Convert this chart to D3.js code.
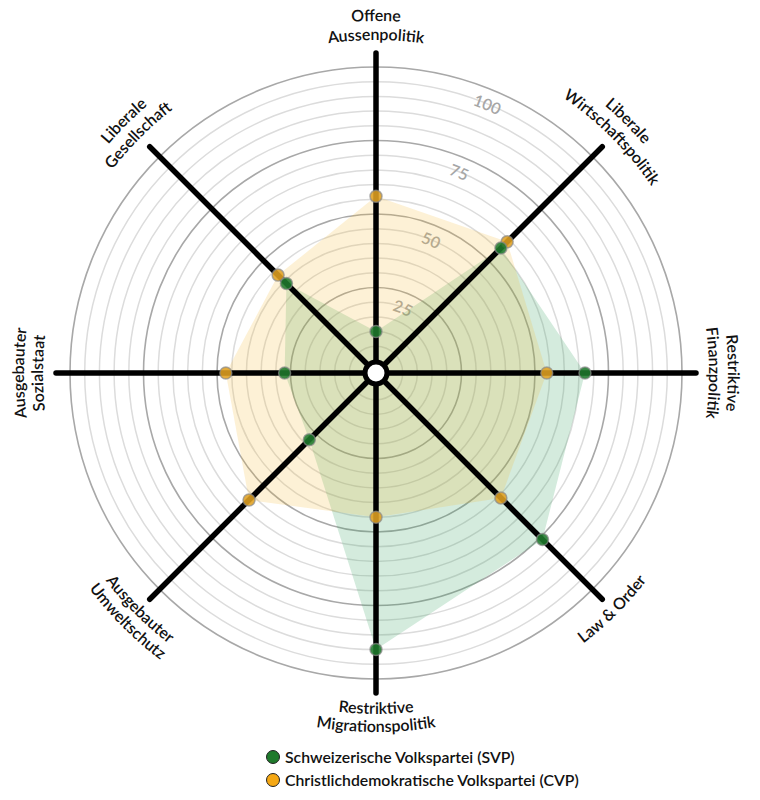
<!DOCTYPE html>
<html>
<head>
<meta charset="utf-8">
<script src="https://cdn.jsdelivr.net/npm/d3@7"></script>
<style>
html,body{margin:0;padding:0;background:#fff;}
svg{display:block;}
text{font-family:Lato,"Open Sans",sans-serif;}
</style>
</head>
<body>
<svg id="chart" width="760" height="800"></svg>
<script>
const axisLabels = [
  ["Offene","Aussenpolitik"],
  ["Liberale","Wirtschaftspolitik"],
  ["Restriktive","Finanzpolitik"],
  ["Law & Order"],
  ["Restriktive","Migrationspolitik"],
  ["Ausgebauter","Umweltschutz"],
  ["Ausgebauter","Sozialstaat"],
  ["Liberale","Gesellschaft"]
];
const seriesNames = ["Schweizerische Volkspartei (SVP)","Christlichdemokratische Volkspartei (CVP)"];
const svpValues = [10, 56, 67, 76, 90, 28, 27, 39];
const cvpValues = [56, 59, 54, 56, 45, 57, 47, 43];
const tickValues = [25, 50, 75, 100];
const minorTicks = d3.range(5, 100, 5).filter(v => v % 25 !== 0);

const cx = 376, cy = 373;
const svg = d3.select("#chart");
const r = d3.scaleLinear().domain([0,100]).range([12, 306]);
const n = axisLabels.length;
const ang = d3.scaleLinear().domain([0, n]).range([0, 2*Math.PI]);
const pt = (a, rad) => [cx + rad*Math.sin(a), cy - rad*Math.cos(a)];

const g = svg.append("g");

// rings
g.selectAll("circle.minor").data(minorTicks).enter().append("circle")
  .attr("cx", cx).attr("cy", cy).attr("r", d => r(d))
  .attr("fill","none").attr("stroke","#dcdcdc").attr("stroke-width",1.5);
g.selectAll("circle.major").data(tickValues).enter().append("circle")
  .attr("cx", cx).attr("cy", cy).attr("r", d => r(d))
  .attr("fill","none").attr("stroke","#a8a8a8").attr("stroke-width",1.6);

// helper arcs
const defs = svg.append("defs");
function arcPath(id, a, rad, cw) {
  const half = Math.PI/2;
  let p0, p1, sweep;
  if (cw) { p0 = pt(a-half, rad); p1 = pt(a+half, rad); sweep = 1; }
  else { p0 = pt(a+half, rad); p1 = pt(a-half, rad); sweep = 0; }
  defs.append("path").attr("id", id)
    .attr("d", `M${p0[0]},${p0[1]} A${rad},${rad} 0 0 ${sweep} ${p1[0]},${p1[1]}`);
}

// tick labels
const tickAngle = Math.PI/8;
tickValues.forEach((v,i) => {
  arcPath("tick"+i, tickAngle, r(v)-21, true);
  g.append("text").attr("font-size",16).attr("fill","#a6a6a6").attr("font-weight",600)
    .append("textPath").attr("href","#tick"+i).attr("startOffset","50%")
    .attr("text-anchor","middle").text(v);
});

// polygons
const line = d3.lineRadial().angle((d,i)=>ang(i)).radius(d=>r(d)).curve(d3.curveLinearClosed);
const pg = g.append("g").attr("transform",`translate(${cx},${cy})`);
pg.append("path").attr("d", line(svpValues)).attr("fill","#36a060").attr("fill-opacity",0.21);
pg.append("path").attr("d", line(cvpValues)).attr("fill","#f7b733").attr("fill-opacity",0.2);

// axes
axisLabels.forEach((lab,i) => {
  const e = pt(ang(i), 320);
  g.append("line").attr("x1",cx).attr("y1",cy).attr("x2",e[0]).attr("y2",e[1])
    .attr("stroke","#000").attr("stroke-width",5.5).attr("stroke-linecap","round");
});

// points
const series = [
  {vals: svpValues, color:"#1f7a2c"},
  {vals: cvpValues, color:"#e0a021"}
];
[series[1], series[0]].forEach(s => {
  g.selectAll(null).data(s.vals).enter().append("circle")
    .attr("cx",(d,i)=>pt(ang(i), r(d))[0]).attr("cy",(d,i)=>pt(ang(i), r(d))[1])
    .attr("r",6).attr("fill",s.color).attr("fill-opacity",0.88)
    .attr("stroke","#8a8a8a").attr("stroke-opacity",0.7).attr("stroke-width",1.5);
});

// center
g.append("circle").attr("cx",cx).attr("cy",cy).attr("r",11)
  .attr("fill","#fff").attr("stroke","#000").attr("stroke-width",5);

// axis labels
axisLabels.forEach((lab,i) => {
  const a = ang(i);
  const deg = i*360/n;
  const cw = !(deg > 90 && deg < 270);
  const radii = cw ? [352, 333] : [341, 359];
  lab.forEach((t,j) => {
    const id = `lab${i}_${j}`;
    arcPath(id, a, radii[j], cw);
    g.append("text").attr("font-size",16).attr("font-weight",600).attr("fill","#111")
      .append("textPath").attr("href","#"+id).attr("startOffset","50%")
      .attr("text-anchor","middle").text(t);
  });
});

// legend
const lg = svg.append("g");
const legColors = ["#1f7a2c","#f5a814"];
seriesNames.forEach((name,i) => {
  const y = 757 + i*23;
  lg.append("circle").attr("cx",273).attr("cy",y).attr("r",6.5)
    .attr("fill",legColors[i]).attr("stroke","#222").attr("stroke-width",1);
  lg.append("text").attr("x",285).attr("y",y).attr("dy","0.36em")
    .attr("font-size",15.8).attr("font-weight",600).attr("fill","#111").text(name);
});
</script>
</body>
</html>
